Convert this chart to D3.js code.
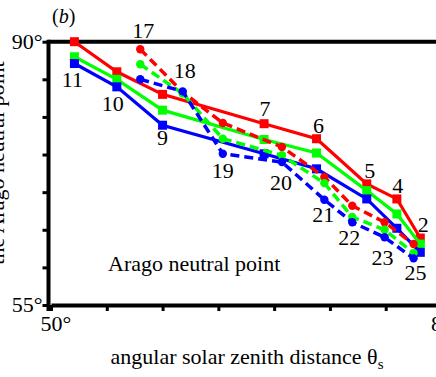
<!DOCTYPE html>
<html>
<head>
<meta charset="utf-8">
<script src="https://cdn.jsdelivr.net/npm/d3@7"></script>
<style>
body{margin:0;background:#fff;}
svg{display:block;}
svg text{font-family:"Liberation Serif","Times New Roman",serif;}
</style>
</head>
<body>
<svg id="chart" width="436" height="377"></svg>
<script>
// solid curves (square markers), points 11 ... 2
var solidAngles = [52.1, 55.9, 60.0, 69.1, 73.8, 78.3, 81.0, 83.1];
var solidLabels = ["11", "10", "9", "7", "6", "5", "4", "2"];
var solidRed   = [90.0, 86.0, 83.0, 79.1, 77.1, 71.1, 69.1, 63.9];
var solidGreen = [88.0, 85.0, 80.9, 77.0, 75.2, 70.2, 67.1, 63.1];
var solidBlue  = [87.1, 84.0, 78.9, 75.1, 73.1, 69.1, 65.2, 62.0];

// dashed curves (round markers), points 17 ... 25
var dashedAngles = [58.0, 61.8, 65.4, 70.7, 74.5, 77.0, 79.9, 82.5];
var dashedLabels = ["17", "18", "19", "20", "21", "22", "23", "25"];
var dashedRed   = [89.0, 83.3, 79.2, 76.0, 72.0, 68.2, 66.0, 63.1];
var dashedGreen = [87.0, 83.1, 77.1, 74.9, 71.2, 66.7, 65.0, 61.9];
var dashedBlue  = [85.0, 83.4, 75.1, 74.0, 69.0, 66.0, 64.0, 61.2];

var xTicks = [50, 55, 60, 65, 70, 75, 80, 85];
var yTicks = [55, 60, 65, 70, 75, 80, 85, 90];

var colors = {red: "#ff0000", green: "#00ff00", blue: "#0000ff"};

var svg = d3.select("#chart");
var fontSize = 22;

var x = d3.scaleLinear().domain([50, 85]).range([51, 441.5]);
var y = d3.scaleLinear().domain([55, 90]).range([305, 41.7]);

//label offsets (px) from the point they sit next to
var solidLabelPos = [
    ["blue", -2, 23], ["blue", -4, 24], ["blue", 0, 20], ["red", 1, -8],
    ["red", 2, -6], ["red", 3, -6], ["red", 1, -6], ["red", 3, -6]
];
var dashedLabelPos = [
    ["red", 3, -11], ["red", 2, -14], ["blue", 0, 24], ["blue", -1, 28],
    ["blue", -1, 22], ["blue", -3, 23], ["blue", -2, 28], ["blue", 2, 22]
];

function makePoints(angles, values){
    return angles.map(function(a, i){ return [a, values[i]]; });
}

var solidSeries = {red: makePoints(solidAngles, solidRed), green: makePoints(solidAngles, solidGreen), blue: makePoints(solidAngles, solidBlue)};
var dashedSeries = {red: makePoints(dashedAngles, dashedRed), green: makePoints(dashedAngles, dashedGreen), blue: makePoints(dashedAngles, dashedBlue)};

var line = d3.line().x(function(d){ return x(d[0]); }).y(function(d){ return y(d[1]); });

// frame on top
svg.append("line")
    .attr("x1", 48.5).attr("x2", 436)
    .attr("y1", y(90)).attr("y2", y(90))
    .attr("stroke", "black").attr("stroke-width", 4);

// x axis
var xAxis = svg.append("g")
    .attr("transform", "translate(0," + y(55) + ")")
    .call(d3.axisBottom(x).tickValues(xTicks).tickSize(6).tickSizeOuter(0)
        .tickFormat(function(d){ return (d == 50 || d == 85) ? d + "°" : ""; }));
xAxis.attr("font-family", null);
xAxis.select(".domain").attr("stroke-width", 4);
xAxis.selectAll(".tick line").attr("stroke-width", 3);
xAxis.selectAll(".tick text")
    .attr("font-size", fontSize)
    .attr("text-anchor", "start").attr("x", -11).attr("y", 10).attr("dy", "0.71em");

// y axis
var yAxis = svg.append("g")
    .attr("transform", "translate(48.5,0)")
    .call(d3.axisLeft(y).tickValues(yTicks).tickSize(6).tickSizeOuter(0)
        .tickFormat(function(d){ return (d == 55 || d == 90) ? d + "°" : ""; }));
yAxis.attr("font-family", null);
yAxis.select(".domain").attr("stroke-width", 4).attr("d", "M0," + (y(90) - 2) + "V" + (y(55) + 6));
yAxis.selectAll(".tick line").attr("stroke-width", 3);
yAxis.selectAll(".tick text")
    .attr("font-size", fontSize)
    .attr("x", -6).attr("dy", "0.3em");

// solid curves
["red", "green", "blue"].forEach(function(c){
    svg.append("path")
        .datum(solidSeries[c])
        .attr("d", line)
        .attr("fill", "none")
        .attr("stroke", colors[c])
        .attr("stroke-width", 3.2);
    svg.selectAll(".sq-" + c)
        .data(solidSeries[c])
        .enter()
        .append("rect")
        .attr("x", function(d){ return x(d[0]) - 4.5; })
        .attr("y", function(d){ return y(d[1]) - 4.5; })
        .attr("width", 9).attr("height", 9)
        .attr("fill", colors[c]);
});

// dashed curves
["red", "green", "blue"].forEach(function(c){
    svg.append("path")
        .datum(dashedSeries[c])
        .attr("d", line)
        .attr("fill", "none")
        .attr("stroke", colors[c])
        .attr("stroke-width", 3.5)
        .attr("stroke-dasharray", "9,5");
    svg.selectAll(".dot-" + c)
        .data(dashedSeries[c])
        .enter()
        .append("circle")
        .attr("cx", function(d){ return x(d[0]); })
        .attr("cy", function(d){ return y(d[1]); })
        .attr("r", 4.2)
        .attr("fill", colors[c]);
});

// point numbers
function addLabels(labels, pos, series){
    svg.selectAll(null)
        .data(labels)
        .enter()
        .append("text")
        .attr("x", function(d, i){ return x(series[pos[i][0]][i][0]) + pos[i][1]; })
        .attr("y", function(d, i){ return y(series[pos[i][0]][i][1]) + pos[i][2]; })
        .attr("text-anchor", "middle")
        .attr("font-size", fontSize)
        .text(function(d){ return d; });
}
addLabels(solidLabels, solidLabelPos, solidSeries);
addLabels(dashedLabels, dashedLabelPos, dashedSeries);

// texts
svg.append("text")
    .attr("x", 108).attr("y", 271)
    .attr("font-size", fontSize)
    .text("Arago neutral point");

svg.append("text")
    .attr("x", 52).attr("y", 23)
    .attr("font-size", 20)
    .html('(<tspan font-style="italic">b</tspan>)');

svg.append("text")
    .attr("x", 247).attr("y", 364)
    .attr("text-anchor", "middle")
    .attr("font-size", fontSize)
    .html('angular solar zenith distance θ<tspan font-size="15" dy="5">s</tspan>');

// y title, mostly cut off at the left edge
var yTitle = svg.append("text")
    .attr("transform", "translate(4,163) rotate(-90)")
    .attr("text-anchor", "middle")
    .attr("font-size", fontSize);
yTitle.append("tspan").attr("x", 0).attr("dy", "-1.1em").text("angular height of");
yTitle.append("tspan").attr("x", 0).attr("dy", "1.1em").text("the Arago neutral point");
</script>
</body>
</html>
